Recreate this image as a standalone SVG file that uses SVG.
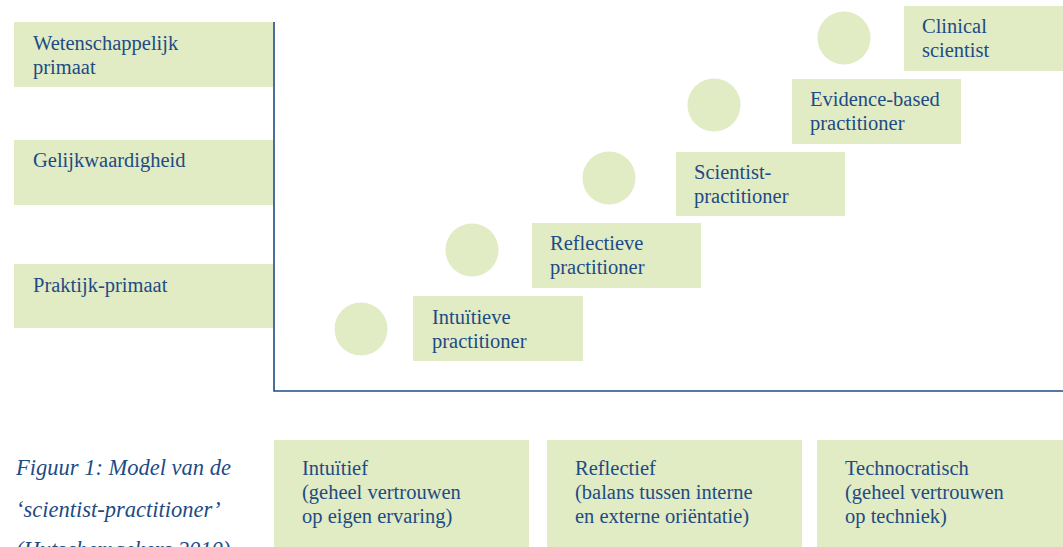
<svg xmlns="http://www.w3.org/2000/svg" width="1063" height="547" viewBox="0 0 1063 547">
<style>
.b{fill:#e1ebc4}
.c{fill:#e1ebc4}
text{font-family:"Liberation Serif",serif;font-size:20.5px;fill:#1d4b85}
.cap{font-style:italic;font-size:22.5px}
.ax{stroke:#1d4b85;stroke-width:1.6;fill:none}
</style>
<rect width="1063" height="547" fill="#fff"/>
<g id="axes"><path class="ax" d="M274,22 V391 H1063"/></g>
<g id="y1"><rect class="b" x="14" y="22" width="259" height="65"/><text x="33" y="50">Wetenschappelijk</text><text x="33" y="74">primaat</text></g>
<g id="y2"><rect class="b" x="14" y="140" width="259" height="65"/><text x="33" y="167">Gelijkwaardigheid</text></g>
<g id="y3"><rect class="b" x="14" y="264" width="259" height="64"/><text x="33" y="292">Praktijk-primaat</text></g>
<g id="s1"><circle class="c" cx="361" cy="329" r="26.5"/><rect class="b" x="413" y="296" width="170" height="65"/><text x="432" y="324">Intuïtieve</text><text x="432" y="348">practitioner</text></g>
<g id="s2"><circle class="c" cx="472" cy="250" r="26.5"/><rect class="b" x="532" y="223" width="169" height="65"/><text x="550" y="250">Reflectieve</text><text x="550" y="274">practitioner</text></g>
<g id="s3"><circle class="c" cx="609" cy="178" r="26.5"/><rect class="b" x="676" y="152" width="169" height="64"/><text x="694" y="179">Scientist-</text><text x="694" y="203">practitioner</text></g>
<g id="s4"><circle class="c" cx="714" cy="105" r="26.5"/><rect class="b" x="792" y="79" width="169" height="65"/><text x="810" y="106">Evidence-based</text><text x="810" y="130">practitioner</text></g>
<g id="s5"><circle class="c" cx="844" cy="38" r="26.5"/><rect class="b" x="904" y="6" width="159" height="65"/><text x="922" y="33">Clinical</text><text x="922" y="57">scientist</text></g>
<g id="x1"><rect class="b" x="274" y="440" width="255" height="107"/><text x="302" y="475">Intuïtief</text><text x="302" y="499">(geheel vertrouwen</text><text x="302" y="523">op eigen ervaring)</text></g>
<g id="x2"><rect class="b" x="547" y="440" width="255" height="107"/><text x="575" y="475">Reflectief</text><text x="575" y="499">(balans tussen interne</text><text x="575" y="523">en externe oriëntatie)</text></g>
<g id="x3"><rect class="b" x="817" y="440" width="246" height="107"/><text x="845" y="475">Technocratisch</text><text x="845" y="499">(geheel vertrouwen</text><text x="845" y="523">op techniek)</text></g>
<g id="caption"><text class="cap" x="16" y="475">Figuur 1: Model van de</text><text class="cap" x="16" y="517">‘scientist-practitioner’</text><text class="cap" x="16" y="557">(Hutschemaekers 2010)</text></g>
</svg>
